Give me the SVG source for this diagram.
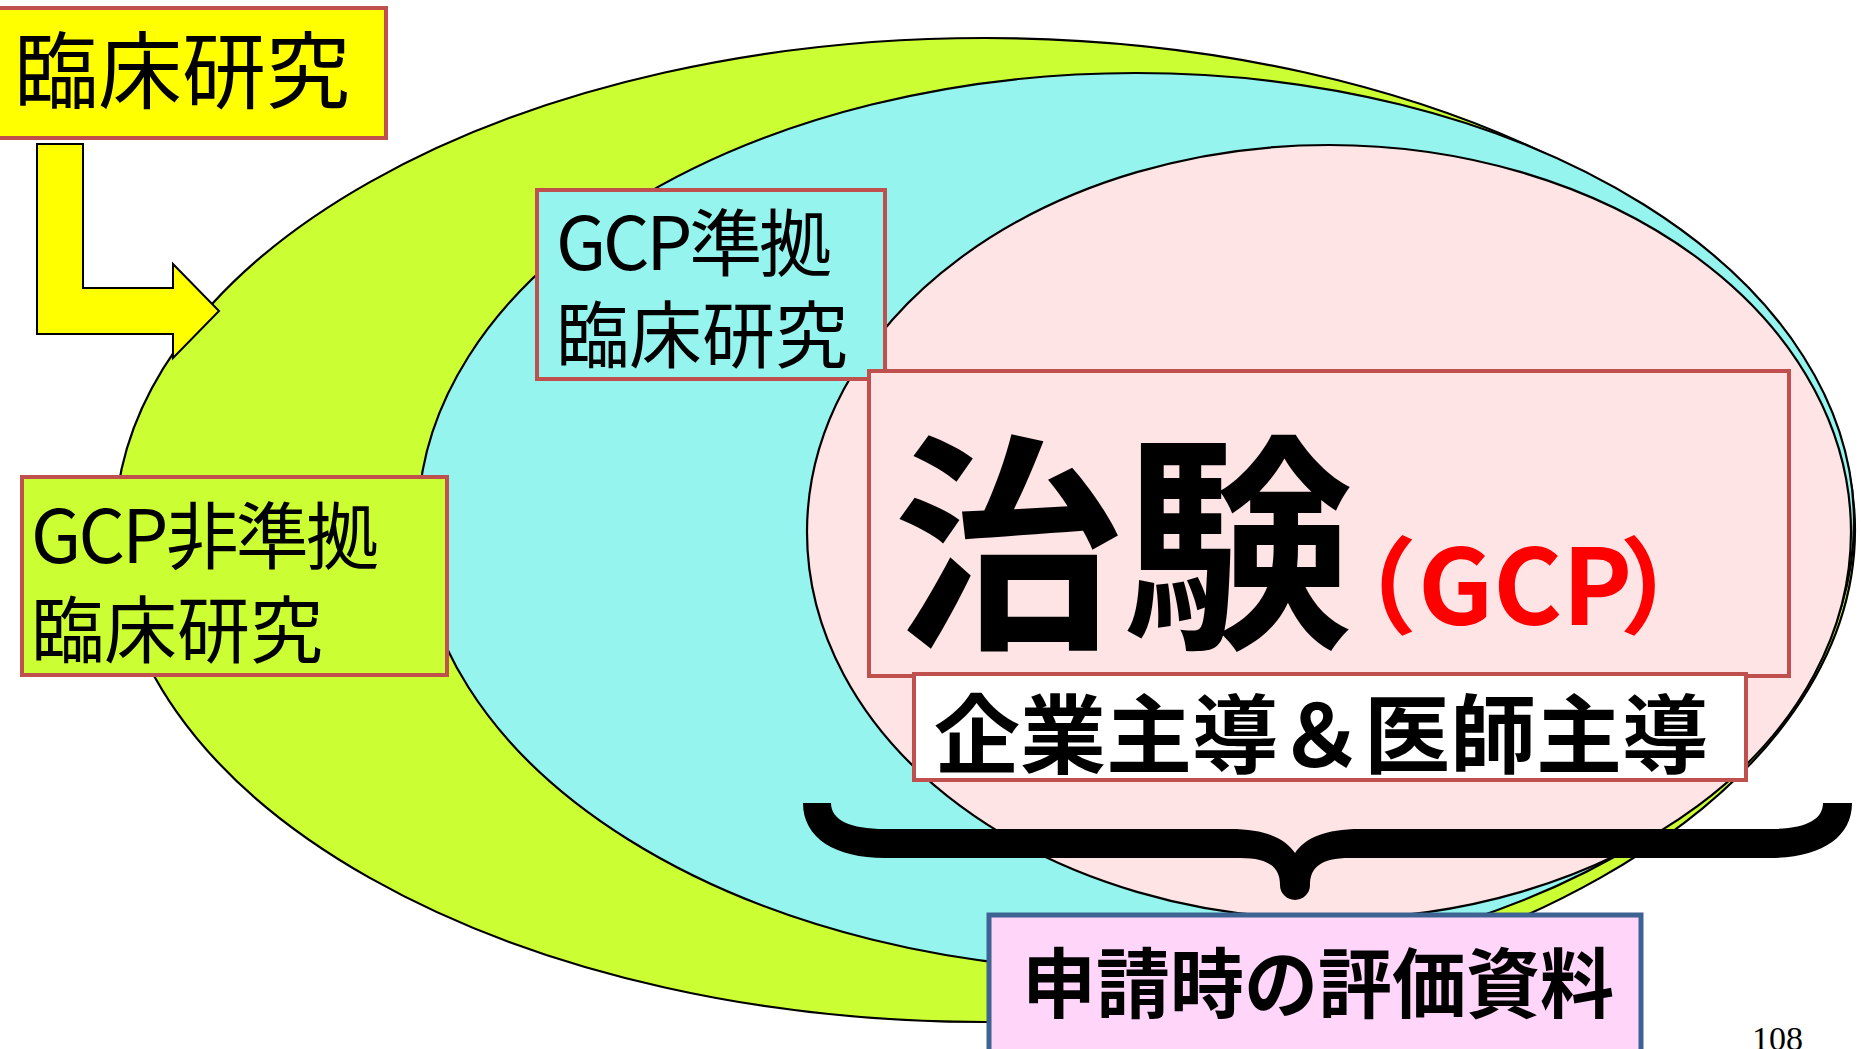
<svg xmlns="http://www.w3.org/2000/svg" width="1861" height="1049" viewBox="0 0 1861 1049">
<style>
.ell{stroke:#000;stroke-width:2.2}
.box{stroke:#C0504D;stroke-width:4}
.jp{font-family:"Noto Sans CJK JP","Noto Sans",sans-serif;fill:#000}
.b{font-weight:bold}
.palt{font-feature-settings:"palt" 1}
</style>
<rect width="1861" height="1049" fill="#FFFFFF"/>
<g id="ellipse-non-gcp"><ellipse class="ell" cx="985" cy="530" rx="870" ry="492" fill="#CCFF33"/></g>
<g id="ellipse-gcp"><ellipse class="ell" cx="1136" cy="522" rx="718" ry="449" fill="#96F4EE"/></g>
<g id="ellipse-chiken"><ellipse class="ell" cx="1329" cy="532" rx="522" ry="387" fill="#FFE4E6"/></g>

<g id="node-rinsho">
<rect class="box" x="-4" y="8" width="390" height="130" fill="#FFFF00"/>
<text class="jp" x="14" y="102" font-size="84">臨床研究</text>
</g>
<g id="node-gcp">
<rect class="box" x="537" y="190" width="348" height="189" fill="#96F4EE"/>
<text class="jp" x="556" y="270" font-size="73" textLength="276">GCP準拠</text>
<text class="jp" x="556" y="362" font-size="73">臨床研究</text>
</g>
<g id="node-non-gcp">
<rect class="box" x="22" y="477" width="425" height="198" fill="#CCFF33"/>
<text class="jp" x="31" y="563" font-size="73" textLength="348">GCP非準拠</text>
<text class="jp" x="31" y="657" font-size="73">臨床研究</text>
</g>
<g id="node-chiken">
<rect class="box" x="869" y="371" width="920" height="305" fill="#FFE4E6"/>
<text class="jp b" x="893" y="630" font-size="230">治験</text>
<text class="jp b palt" font-size="105" y="625" style="fill:#FF0000"><tspan x="1360">（</tspan><tspan x="1418">GCP</tspan><tspan x="1624">）</tspan></text>
</g>
<g id="node-sponsor">
<rect class="box" x="914" y="674" width="832" height="106" fill="#FFFFFF"/>
<text class="jp b" x="934" y="767" font-size="86">企業主導＆医師主導</text>
</g>
<g id="node-review">
<rect x="989" y="915" width="652" height="200" fill="#FFD5F9" stroke="#3C6391" stroke-width="5"/>
<text class="jp b" x="1022" y="1012" font-size="76" textLength="592" lengthAdjust="spacingAndGlyphs">申請時の評価資料</text>
</g>

<g id="connectors">
<path d="M37,144 L83,144 L83,288 L173,288 L173,264 L219,311 L173,358 L173,334 L37,334 Z" fill="#FFFF00" stroke="#000" stroke-width="2"/>
<path d="M803,803 C803,838 835,858 885,858 L1240,858 C1270,858 1280,868 1280,885 A15,15 0 0 0 1310,885 C1310,868 1320,858 1350,858 L1770,858 C1820,858 1852,838 1852,803 L1823,803 C1823,820 1805,829 1770,829 L1360,829 C1325,829 1305,838 1295,853 C1285,838 1265,829 1230,829 L885,829 C850,829 831,820 831,803 Z" fill="#000"/>
</g>

<text x="1752" y="1050" font-family="Liberation Serif, serif" font-size="34" fill="#000">108</text>
</svg>
